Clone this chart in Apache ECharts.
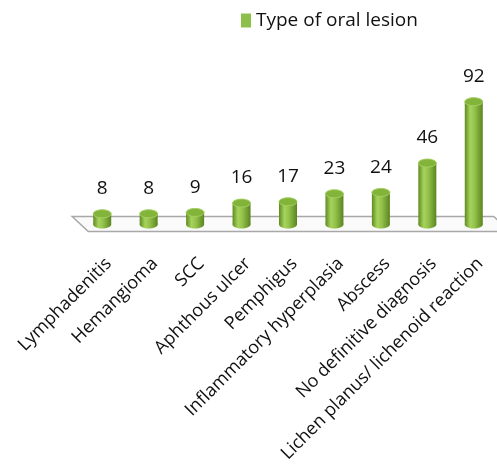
<!DOCTYPE html>
<html>
<head>
<meta charset="utf-8">
<script src="https://cdn.jsdelivr.net/npm/echarts@6/dist/echarts.min.js"></script>
<style>html,body{margin:0;padding:0;background:#fff}#c{width:497px;height:465px}</style>
</head>
<body>
<div id="c"></div>
<script>
const categories = ['Lymphadenitis', 'Hemangioma', 'SCC', 'Aphthous ulcer', 'Pemphigus', 'Inflammatory hyperplasia', 'Abscess', 'No definitive diagnosis', 'Lichen planus/ lichenoid reaction'];
const values = [8, 8, 9, 16, 17, 23, 24, 46, 92];
const seriesName = 'Type of oral lesion';

const FONT = 'Open Sans';
const chart = echarts.init(document.getElementById('c'), null, {renderer: 'canvas'});

const bodyGrad = new echarts.graphic.LinearGradient(0, 0, 1, 0, [
  {offset: 0, color: '#5f8a22'},
  {offset: 0.3, color: '#a6d35c'},
  {offset: 0.55, color: '#93c24a'},
  {offset: 1, color: '#5b8420'}
]);

function renderCyl(params, api) {
  const idx = api.value(0);
  const base = api.coord([idx, 0]);
  const top = api.coord([idx, api.value(1)]);
  const w = 18, ry = 4;
  const cx = base[0];
  return {
    type: 'group',
    children: [
      {type: 'ellipse', shape: {cx: cx, cy: base[1], rx: w / 2, ry: ry}, style: {fill: bodyGrad}},
      {type: 'rect', shape: {x: cx - w / 2, y: top[1], width: w, height: base[1] - top[1]}, style: {fill: bodyGrad}},
      {type: 'ellipse', shape: {cx: cx, cy: top[1], rx: w / 2, ry: ry}, style: {fill: '#83b43a', stroke: '#a4d062', lineWidth: 1}},
      {type: 'text', style: {text: String(api.value(1)), x: cx, y: top[1] - 25, align: 'center', verticalAlign: 'middle', font: '19px "' + FONT + '"', fill: '#111'}}
    ]
  };
}

function renderFloor(params, api) {
  const first = api.coord([0, 0]);
  const last = api.coord([categories.length - 1, 0]);
  const y0 = first[1];
  const pts = [
    [first[0] - 30, y0 - 8],
    [last[0] + 20, y0 - 8],
    [last[0] + 36, y0 + 7],
    [first[0] - 14, y0 + 7]
  ];
  return {
    type: 'polygon',
    shape: {points: pts},
    style: {fill: '#fafafa', stroke: '#a8a8a8', lineWidth: 1.5}
  };
}

chart.setOption({
  animation: false,
  legend: {
    data: [{name: seriesName, icon: 'rect'}],
    left: 236, top: 6,
    itemWidth: 10, itemHeight: 14, itemGap: 3,
    textStyle: {fontFamily: FONT, fontSize: 19, color: '#111'}
  },
  grid: {left: 79, width: 420, top: 91, bottom: 238},
  xAxis: {
    type: 'category',
    data: categories,
    axisLine: {show: false},
    axisTick: {show: false},
    axisLabel: {rotate: 45, margin: 30, interval: 0, verticalAlign: 'top', fontFamily: FONT, fontSize: 18, color: '#111'}
  },
  yAxis: {type: 'value', min: 0, max: 100, show: false},
  series: [
    {
      name: 'floor',
      type: 'custom',
      renderItem: renderFloor,
      data: [[0]],
      z: 1,
      silent: true
    },
    {
      name: seriesName,
      type: 'custom',
      renderItem: renderCyl,
      itemStyle: {color: '#8cc04a'},
      encode: {x: 0, y: 1},
      data: values.map((v, i) => [i, v]),
      z: 2
    }
  ]
});
</script>
</body>
</html>
